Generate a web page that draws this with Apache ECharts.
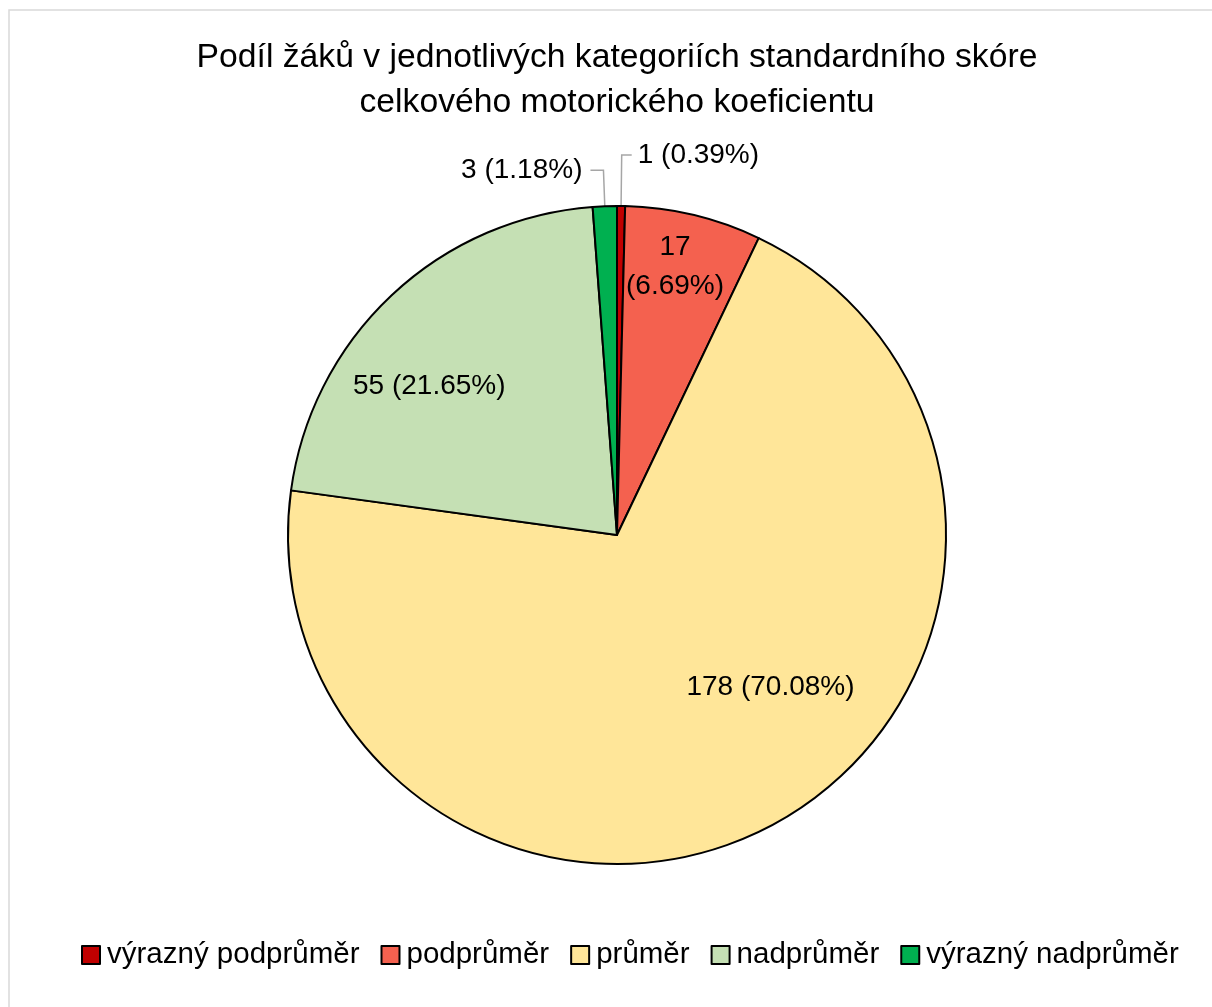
<!DOCTYPE html>
<html><head><meta charset="utf-8">
<script src="https://cdn.jsdelivr.net/npm/echarts@6/dist/echarts.min.js"></script>
<style>html,body{margin:0;padding:0;background:#fff}#c{width:1212px;height:1007px}</style>
</head><body><div id="c"></div>
<script>
const categories = ['výrazný podprůměr', 'podprůměr', 'průměr', 'nadprůměr', 'výrazný nadprůměr'];
const counts = [1, 17, 178, 55, 3];
const colors = ['#C00000', '#F4614F', '#FFE699', '#C5E0B4', '#00B050'];
const titleText = 'Podíl žáků v jednotlivých kategoriích standardního skóre\ncelkového motorického koeficientu';

const FONT = 'Liberation Sans';
const total = counts.reduce((a, b) => a + b, 0);
// label placement styles (not data)
const labelPos = ['outside', 'inside', 'inside', 'inside', 'outside'];
const lineLen = [51, 0, 0, 0, 36];
const line2Len = [10, 0, 0, 0, 13];
const shift = [[0,0],[19,-105],[74,5],[-73,-27],[0,0]];

const chart = echarts.init(document.getElementById('c'));
chart.setOption({
  animation: false,
  graphic: [{type:'rect', shape:{x:9, y:10, width:1220, height:1020}, style:{fill:'none', stroke:'#d9d9d9', lineWidth:1.5}, silent:true}],
  title: {text: titleText, left: 612, textAlign: 'center', top: 30, textStyle: {fontFamily: FONT, fontWeight: 'normal', fontSize: 33.7, lineHeight: 45, color: '#000'}},
  legend: {
    data: categories, bottom: 32, left: 76, itemWidth: 18, itemHeight: 18, itemGap: 21, icon: 'rect',
    itemStyle: {borderColor: '#000', borderWidth: 2},
    textStyle: {fontFamily: FONT, fontSize: 29.5, color: '#000', padding:[0,0,0,2]}
  },
  series: [{
    type: 'pie', center: [617, 535], radius: 329, startAngle: 90, clockwise: true,
    avoidLabelOverlap: false,
    itemStyle: {borderColor: '#000', borderWidth: 2},
    labelLayout: function (p) {
      const s = shift[p.dataIndex];
      return {dx: s[0], dy: s[1]};
    },
    data: categories.map((n, i) => ({
      name: n, value: counts[i],
      itemStyle: {color: colors[i]},
      label: {
        show: true, position: labelPos[i], fontFamily: FONT, fontSize: 28, color: '#000',
        formatter: function (p) {
          const pct = (p.value / total * 100).toFixed(2) + '%';
          return i === 1 ? p.value + '\n(' + pct + ')' : p.value + ' (' + pct + ')';
        },
        lineHeight: 39, distanceToLabelLine: i === 4 ? 8 : 6
      },
      labelLine: {show: labelPos[i] === 'outside', length: lineLen[i], length2: line2Len[i], lineStyle: {color: '#A6A6A6', width: 1.5}}
    }))
  }]
});
</script></body></html>
